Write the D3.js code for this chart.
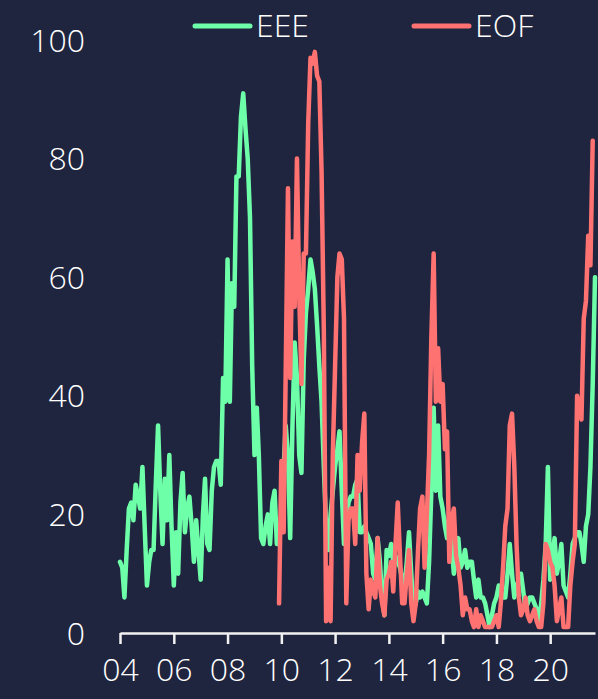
<!DOCTYPE html>
<html>
<head>
<meta charset="utf-8">
<script src="https://cdn.jsdelivr.net/npm/d3@7"></script>
<style>
  html, body { margin: 0; padding: 0; background: #1f253e; }
  svg { display: block; }
  text { font-family: "Open Sans", sans-serif; font-weight: 300; fill: #ffffff; }
</style>
</head>
<body>
<svg id="chart" width="598" height="699"></svg>
<script>
// ---- Data (monthly, starting Jan 2004) ----
const startYear = 2004;
const seriesNames = ["EEE", "EOF"];
const seriesColors = ["#6effa9", "#ff7272"];
const eofStartMonth = 71; // EOF begins Dec 2009

const eeeValues = [
  12, 11, 6, 14, 21, 22, 19, 25, 23, 21, 28, 18,
  8, 12, 14, 14, 25, 35, 24, 15, 26, 19, 30, 18,
  8, 17, 10, 22, 27, 17, 21, 23, 18, 12, 19, 14,
  9, 20, 26, 15, 14, 24, 28, 29, 29, 25, 43, 39,
  63, 39, 59, 55, 77, 77, 87, 91, 85, 80, 70, 45,
  30, 38, 30, 16, 15, 18, 20, 15, 22, 24, 15, 15,
  20, 28, 35, 30, 16, 35, 49, 43, 30, 27, 46, 54,
  58, 63, 61, 58, 52, 45, 39, 28, 18, 14, 20, 24,
  28, 31, 34, 24, 15, 18, 22, 23, 23, 25, 26, 17,
  17, 18, 17, 16, 15, 10, 9, 16, 12, 6, 3, 14,
  13, 15, 12, 13, 12, 11, 9, 8, 12, 17, 10, 4,
  5, 7, 6, 7, 6, 5, 12, 24, 38, 24, 35, 23,
  21, 18, 16, 20, 15, 10, 13, 16, 11, 12, 14, 11,
  12, 12, 9, 6, 9, 6, 6, 5, 3, 1, 3, 5,
  6, 8, 7, 6, 6, 10, 15, 10, 6, 8, 9, 10,
  7, 4, 5, 6, 6, 5, 4, 2, 5, 9, 15, 28,
  9, 13, 16, 10, 12, 15, 8, 7, 6, 10, 15, 16,
  17, 17, 15, 12, 18, 20, 28, 42, 60
];

const eofValues = [
  5, 29, 17, 44, 75, 43, 66, 55, 80, 57, 42, 64,
  64, 86, 97, 96, 98, 94, 93, 78, 51, 2, 11, 2,
  30, 45, 60, 64, 63, 53, 5, 19, 21, 21, 15, 30,
  24, 32, 37, 10, 4, 9, 7, 6, 16, 8, 5, 3,
  9, 10, 12, 7, 15, 22, 13, 5, 5, 10, 14, 5,
  2, 5, 14, 21, 23, 11, 20, 30, 50, 64, 39, 48,
  39, 42, 31, 34, 12, 19, 21, 13, 11, 8, 3, 6,
  4, 4, 2, 1, 4, 1, 3, 2, 1, 1, 1, 1,
  2, 3, 1, 5, 11, 18, 21, 35, 37, 28, 15, 6,
  3, 4, 6, 3, 2, 3, 4, 2, 1, 1, 5, 15,
  14, 12, 11, 8, 2, 4, 6, 1, 1, 1, 8, 12,
  15, 40, 38, 36, 53, 56, 67, 62, 83
];

const yTicks = [0, 20, 40, 60, 80, 100];
const xTickYears = [2004, 2006, 2008, 2010, 2012, 2014, 2016, 2018, 2020];

// ---- Chart ----
const svg = d3.select("#chart");
svg.append("rect").attr("width", 598).attr("height", 699).attr("fill", "#1f253e");

const x = d3.scaleTime()
  .domain([new Date(2004, 0, 1), new Date(2021, 8, 1)])
  .range([120, 595]);
const y = d3.scaleLinear().domain([0, 100]).range([633, 40]);

const toSeries = (vals, offset) => vals.map((v, i) => ({ date: new Date(startYear, offset + i, 1), value: v }));
const eee = toSeries(eeeValues, 0);
const eof = toSeries(eofValues, eofStartMonth);

// y labels (no axis line)
svg.append("g").selectAll("text")
  .data(yTicks).join("text")
  .attr("x", 85)
  .attr("y", d => y(d))
  .attr("dy", "0.36em")
  .attr("text-anchor", "end")
  .attr("font-size", 32)
  .text(d => d);

// x axis
const xAxis = d3.axisBottom(x)
  .tickValues(xTickYears.map(yr => new Date(yr, 0, 1)))
  .tickFormat(d3.timeFormat("%y"))
  .tickSize(11)
  .tickSizeOuter(0)
  .tickPadding(14);
const gx = svg.append("g").attr("transform", "translate(0,633)").call(xAxis);
gx.select(".domain").attr("stroke", "#f2f2f2").attr("stroke-width", 2.5);
gx.selectAll(".tick line").attr("stroke", "#f2f2f2").attr("stroke-width", 2.5);
gx.selectAll(".tick text")
  .attr("font-size", 32)
  .attr("font-family", "Open Sans, sans-serif")
  .attr("font-weight", 300)
  .attr("fill", "#ffffff");

// lines
const line = d3.line().x(d => x(d.date)).y(d => y(d.value));
[eee, eof].forEach((data, i) => {
  svg.append("path")
    .datum(data)
    .attr("fill", "none")
    .attr("stroke", seriesColors[i])
    .attr("stroke-width", 4.5)
    .attr("stroke-linejoin", "round")
    .attr("stroke-linecap", "round")
    .attr("d", line);
});

// legend
const legendX = [195, 414];
const legend = svg.append("g");
seriesNames.forEach((name, i) => {
  legend.append("line")
    .attr("x1", legendX[i]).attr("x2", legendX[i] + 55)
    .attr("y1", 26).attr("y2", 26)
    .attr("stroke", seriesColors[i])
    .attr("stroke-width", 5)
    .attr("stroke-linecap", "round");
  legend.append("text")
    .attr("x", legendX[i] + 61)
    .attr("y", 37)
    .attr("font-size", 32)
    .text(name);
});
</script>
</body>
</html>
